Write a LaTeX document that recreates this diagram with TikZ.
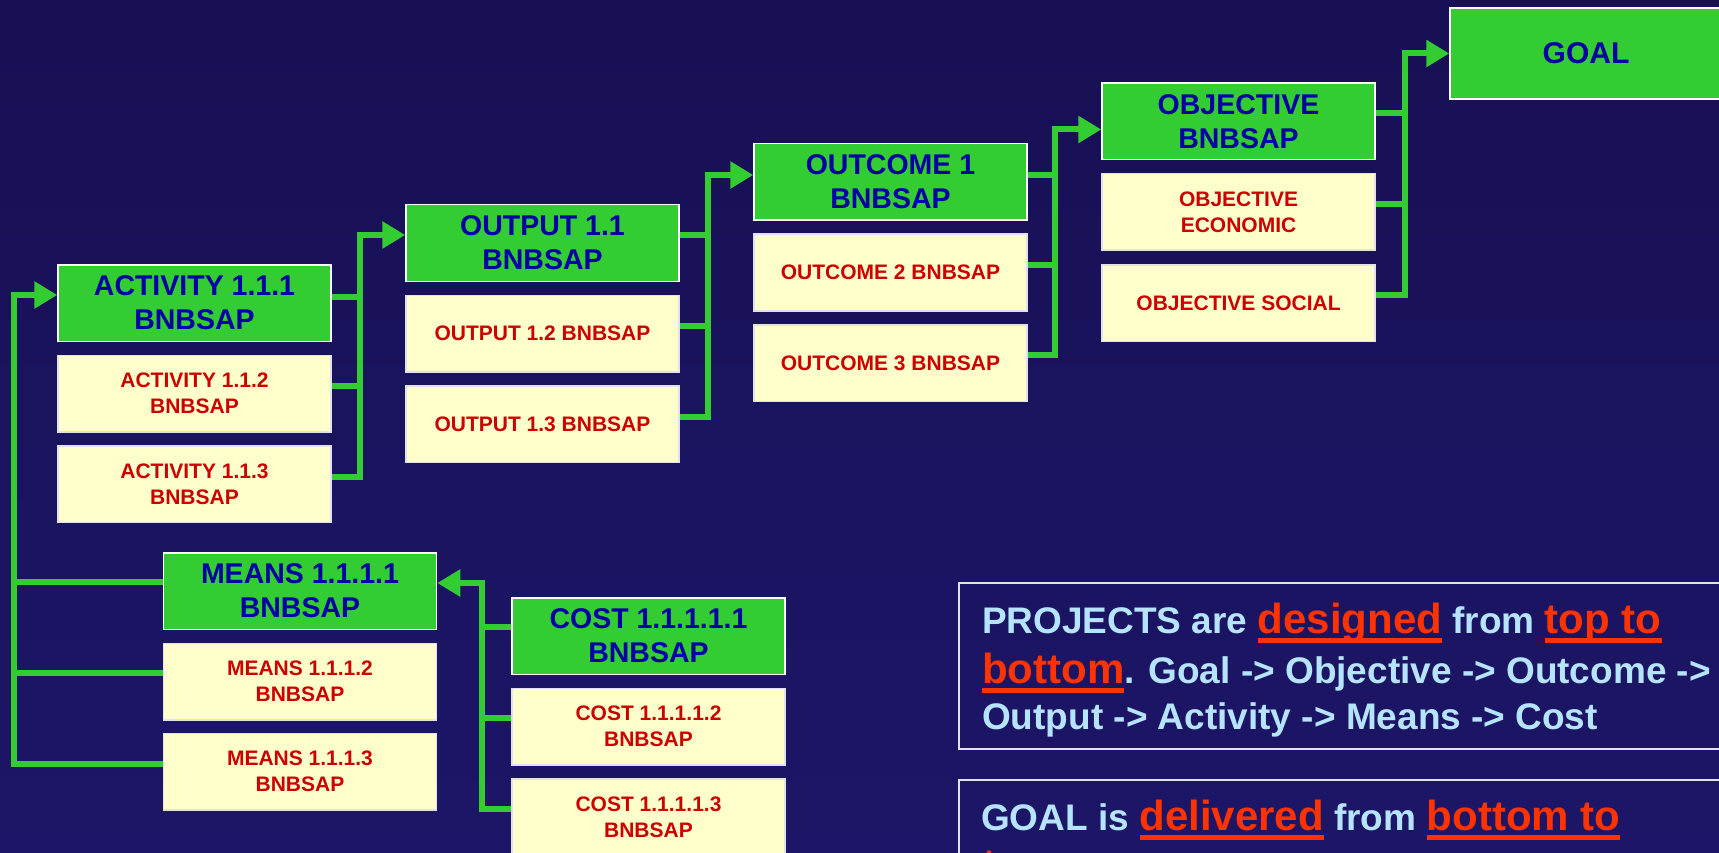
\documentclass[tikz,border=0pt]{standalone}
\usepackage{fontspec}
\setmainfont{Liberation Sans}
\usetikzlibrary{arrows.meta}

\definecolor{bgtop}{RGB}{23,16,84}
\definecolor{bgbot}{RGB}{29,22,104}
\definecolor{boxgreen}{RGB}{51,204,51}
\definecolor{boxblue}{RGB}{0,0,165}
\definecolor{boxyellow}{RGB}{255,255,204}
\definecolor{boxred}{RGB}{204,0,0}
\definecolor{infoblue}{RGB}{182,228,255}
\definecolor{hired}{RGB}{255,51,0}
\definecolor{edgegrey}{RGB}{225,225,240}

% highlighted, underlined word in the explanation boxes
\newcommand\redword[1]{{\fontsize{42}{48}\selectfont\color{hired}%
  \setbox0\hbox{#1}\rlap{\rule[-10pt]{\wd0}{5pt}}\box0}}

\tikzset{
  box/.style={draw=white, line width=1.5pt, minimum width=273pt,
    minimum height=76.5pt, inner sep=0pt, align=center},
  gbox/.style={box, fill=boxgreen, text=boxblue,
    font=\fontsize{28.5}{34}\selectfont\bfseries},
  ybox/.style={box, draw=edgegrey, fill=boxyellow, text=boxred,
    font=\fontsize{21}{26}\selectfont\bfseries},
  link/.style={draw=boxgreen, line width=6pt, line join=miter},
  tip/.style={-{Triangle[length=23pt,width=26pt]}},
  infobox/.style={draw=edgegrey, line width=2pt, fill=none, inner sep=0pt},
  infotext/.style={anchor=base west, inner sep=0pt, text=infoblue,
    font=\fontsize{37}{48}\selectfont\bfseries},
}

\begin{document}
\begin{tikzpicture}[x=1pt,y=1pt]
\useasboundingbox (0,0) rectangle (1719,-853);
\clip (0,0) rectangle (1719,-853);
\shade[top color=bgtop, bottom color=bgbot] (0,0) rectangle (1719,-853);

% activity column
\node[gbox] (A1) at (194.5,-303)   {ACTIVITY 1.1.1\\BNBSAP};
\node[ybox] (A2) at (194.5,-393.5) {ACTIVITY 1.1.2\\BNBSAP};
\node[ybox] (A3) at (194.5,-484)   {ACTIVITY 1.1.3\\BNBSAP};

% output column
\node[gbox] (O1) at (542.5,-243)   {OUTPUT 1.1\\BNBSAP};
\node[ybox] (O2) at (542.5,-333.5) {OUTPUT 1.2 BNBSAP};
\node[ybox] (O3) at (542.5,-424)   {OUTPUT 1.3 BNBSAP};

% outcome column
\node[gbox] (C1o) at (890.5,-182)   {OUTCOME 1\\BNBSAP};
\node[ybox] (C2o) at (890.5,-272.5) {OUTCOME 2 BNBSAP};
\node[ybox] (C3o) at (890.5,-363)   {OUTCOME 3 BNBSAP};

% objective column
\node[gbox] (B1) at (1238.5,-121.5) {OBJECTIVE\\BNBSAP};
\node[ybox] (B2) at (1238.5,-212)   {OBJECTIVE\\ECONOMIC};
\node[ybox] (B3) at (1238.5,-303)   {OBJECTIVE SOCIAL};

% goal
\node[gbox, minimum width=272pt, minimum height=91pt,
      font=\fontsize{30}{34}\selectfont\bfseries] (G) at (1586,-53.5) {GOAL};

% means column
\node[gbox] (M1) at (300,-591)   {MEANS 1.1.1.1\\BNBSAP};
\node[ybox] (M2) at (300,-681.5) {MEANS 1.1.1.2\\BNBSAP};
\node[ybox] (M3) at (300,-771.5) {MEANS 1.1.1.3\\BNBSAP};

% cost column
\node[gbox] (K1) at (648.5,-636)   {COST 1.1.1.1.1\\BNBSAP};
\node[ybox] (K2) at (648.5,-726.5) {COST 1.1.1.1.2\\BNBSAP};
\node[ybox] (K3) at (648.5,-817)   {COST 1.1.1.1.3\\BNBSAP};

% bus lines
\coordinate (busL) at (14,0);
\coordinate (busA) at (360,0);
\coordinate (busO) at (708,0);
\coordinate (busC) at (1055,0);
\coordinate (busB) at (1405,0);
\coordinate (busK) at (482,0);

% attachment points
\coordinate (inA1) at ([yshift=8pt]A1.west);
\coordinate (inO1) at ([yshift=8pt]O1.west);
\coordinate (inC1) at ([yshift=7pt]C1o.west);
\coordinate (inB1) at ([yshift=-8pt]B1.west);
\coordinate (inG)  at (G.west);
\coordinate (inM1) at ([yshift=8pt]M1.east);

% activities -> output
\draw[link] ([yshift=6pt]A1.east) -- ([yshift=6pt]A1.east -| busA);
\draw[link] ([yshift=7.5pt]A2.east) -- ([yshift=7.5pt]A2.east -| busA);
\draw[link,tip] ([yshift=7pt]A3.east) -| (inO1 -| busA) -- (inO1);

% outputs -> outcome
\draw[link] ([yshift=8pt]O1.east) -- ([yshift=8pt]O1.east -| busO);
\draw[link] ([yshift=7.5pt]O2.east) -- ([yshift=7.5pt]O2.east -| busO);
\draw[link,tip] ([yshift=7pt]O3.east) -| (inC1 -| busO) -- (inC1);

% outcomes -> objective
\draw[link] ([yshift=7pt]C1o.east) -- ([yshift=7pt]C1o.east -| busC);
\draw[link] ([yshift=7.5pt]C2o.east) -- ([yshift=7.5pt]C2o.east -| busC);
\draw[link,tip] ([yshift=8pt]C3o.east) -| (inB1 -| busC) -- (inB1);

% objectives -> goal
\draw[link] ([yshift=8.5pt]B1.east) -- ([yshift=8.5pt]B1.east -| busB);
\draw[link] ([yshift=8pt]B2.east) -- ([yshift=8pt]B2.east -| busB);
\draw[link,tip] ([yshift=8pt]B3.east) -| (inG -| busB) -- (inG);

% means -> activity
\draw[link] ([yshift=9pt]M1.west) -- ([yshift=9pt]M1.west -| busL);
\draw[link] ([yshift=8.5pt]M2.west) -- ([yshift=8.5pt]M2.west -| busL);
\draw[link,tip] ([yshift=7.5pt]M3.west) -| (inA1 -| busL) -- (inA1);

% costs -> means
\draw[link] ([yshift=9pt]K1.west) -- ([yshift=9pt]K1.west -| busK);
\draw[link] ([yshift=8.5pt]K2.west) -- ([yshift=8.5pt]K2.west -| busK);
\draw[link,tip] ([yshift=8pt]K3.west) -| (inM1 -| busK) -- (inM1);

% explanation boxes
\node[infobox, anchor=north west, minimum width=790pt, minimum height=166pt]
  (info1) at (958,-582) {};
\node[infobox, anchor=north west, minimum width=790pt, minimum height=120pt]
  (info2) at (958,-779) {};

\node[infotext] (p1) at (982,-633)
  {PROJECTS are \redword{designed} from \redword{top to}};
\node[infotext] (p2) at (982,-683)
  {\redword{bottom}. Goal -> Objective -> Outcome ->};
\node[infotext] (p3) at (982,-729)
  {Output -> Activity -> Means -> Cost};

\node[infotext] (q1) at (981,-830)
  {GOAL is \redword{delivered} from \redword{bottom to}};
\node[infotext] (q2) at (982,-878) {\redword{top}};
\end{tikzpicture}
\end{document}
